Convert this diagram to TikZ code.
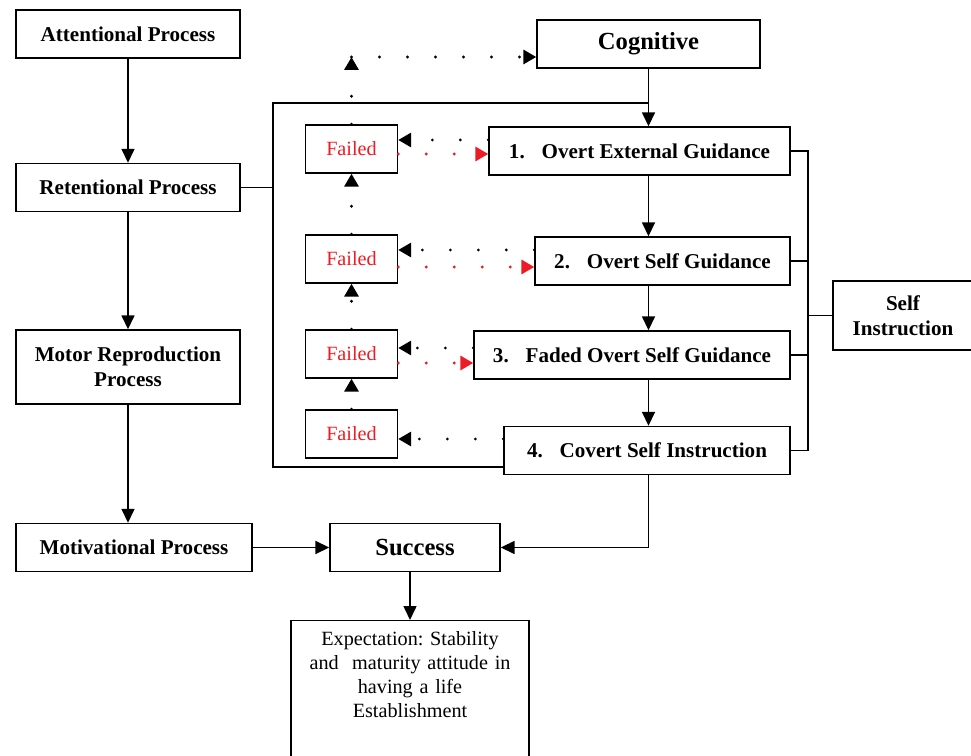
\documentclass[tikz,border=0pt]{standalone}
\usepackage{fontspec}
\setmainfont{Liberation Serif}
\usetikzlibrary{arrows.meta}
\definecolor{failred}{RGB}{237,28,36}
\frenchspacing
\tikzset{
  box/.style={rectangle, draw, line width=0.8pt, align=center, minimum height=0.96cm, font=\bfseries\fontsize{12}{14.5}\selectfont},
  bigbox/.style={box, font=\bfseries\fontsize{14}{16}\selectfont},
  failbox/.style={rectangle, draw, line width=0.8pt, minimum width=1.84cm, minimum height=0.96cm, text=failred, font=\fontsize{11.5}{13.5}\selectfont},
  arr/.style={line width=0.9pt, -{Triangle[length=0.28cm, width=0.26cm]}},
  dotblk/.style={line width=1.8pt, line cap=round, dash pattern=on 0pt off 0.56cm, -{Triangle[length=0.26cm, width=0.28cm]}},
  dotred/.style={dotblk, color=failred},
}
\begin{document}
\begin{tikzpicture}[x=0.02cm, y=-0.02cm]
  \useasboundingbox (0,0) rectangle (971,756);
  % Left column
  \node (att) [box, minimum width=4.48cm] at (128,34) {Attentional Process};
  \node (ret) [box, minimum width=4.48cm] at (128,187.5) {Retentional Process};
  \node (mot) [box, minimum width=4.48cm, minimum height=1.48cm] at (128,367) {Motor Reproduction\\Process};
  \node (motv) [box, minimum width=4.72cm] at (134,547.5) {Motivational Process};
  \node (succ) [bigbox, minimum width=3.4cm] at (415,547.5) {Success};
  \node (expt) [rectangle, draw, line width=0.8pt, anchor=north, minimum width=4.76cm, text width=4.5cm, align=center, inner ysep=0.22cm, font=\fontsize{11.5}{13.6}\selectfont] at (410,620)
    {Expectation: Stability\\and\ \ maturity attitude in\\having a life\\Establishment\\~\\~};
  % Right column
  \node (cog) [bigbox, minimum width=4.46cm] at (648.5,44) {Cognitive};
  \node (b1) [box, minimum width=6.02cm] at (639.5,151) {1.\hspace{0.8em}Overt External Guidance};
  \node (b2) [box, minimum width=5.1cm] at (662.5,261) {2.\hspace{0.8em}Overt Self Guidance};
  \node (b3) [box, minimum width=6.32cm] at (632,355) {3.\hspace{0.8em}Faded Overt Self Guidance};
  \node (b4) [box, minimum width=5.72cm] at (647,450.5) {4.\hspace{0.8em}Covert Self Instruction};
  \node (selfi) [box, minimum width=2.8cm, minimum height=1.38cm] at (903,315.5) {Self\\Instruction};
  % Failed boxes
  \node (f1) [failbox] at (351.5,149) {Failed};
  \node (f2) [failbox] at (351.5,259) {Failed};
  \node (f3) [failbox] at (351.5,354) {Failed};
  \node (f4) [failbox] at (351.5,434) {Failed};
  % Helper points
  \coordinate (lt) at (273,103);
  \coordinate (lb) at (273,467);
  \coordinate (rx) at (808,315.5);
  \coordinate (fc) at (351.5,57);
  % Solid arrows
  \draw[arr] (att) -- (ret);
  \draw[arr] (ret) -- (mot);
  \draw[arr] (mot.south) -- (mot.south |- motv.north);
  \draw[arr] (motv) -- (succ);
  \draw[arr] (expt.north |- succ.south) -- (expt.north);
  \draw[arr] (cog.south) -- (cog.south |- b1.north);
  \draw[arr] (cog.south |- b1.south) -- (cog.south |- b2.north);
  \draw[arr] (cog.south |- b2.south) -- (cog.south |- b3.north);
  \draw[arr] (cog.south |- b3.south) -- (cog.south |- b4.north);
  \draw[arr] (cog.south |- b4.south) |- (succ.east);
  % Brackets
  \draw[line width=0.8pt] (ret.east) -- (ret.east -| lt);
  \draw[line width=0.8pt] (cog.south |- lt) -- (lt) -- (lb) -- (b4.west |- lb);
  \draw[line width=0.8pt] (b1.east) -- (b1.east -| rx) -- (b4.east -| rx) -- (b4.east);
  \draw[line width=0.8pt] (b2.east) -- (b2.east -| rx);
  \draw[line width=0.8pt] (b3.east) -- (b3.east -| rx);
  \draw[line width=0.8pt] (rx) -- (selfi.west);
  % Dotted arrows
  \draw[dotblk] (f1.north) -- (fc);
  \draw[dotblk] (fc) -- (cog.west |- fc);
  \draw[dotblk] (f2.north) -- (f1.south);
  \draw[dotblk] (f3.north) -- (f2.south);
  \draw[dotblk] (f4.north) -- (f3.south);
  \coordinate (k1) at (440,140);
  \coordinate (k2) at (440,250);
  \coordinate (k3) at (440,348);
  \coordinate (k4) at (440,439);
  \coordinate (q1) at (440,154);
  \coordinate (q2) at (440,267);
  \coordinate (q3) at (440,363);
  \draw[dotblk] (b1.west |- k1) -- (f1.east |- k1);
  \draw[dotblk] (b2.west |- k2) -- (f2.east |- k2);
  \draw[dotblk] (b3.west |- k3) -- (f3.east |- k3);
  \draw[dotblk] (b4.west |- k4) -- (f4.east |- k4);
  \draw[dotred] (f1.east |- q1) -- (b1.west |- q1);
  \draw[dotred] (f2.east |- q2) -- (b2.west |- q2);
  \draw[dotred] (f3.east |- q3) -- (b3.west |- q3);
\end{tikzpicture}
\end{document}
